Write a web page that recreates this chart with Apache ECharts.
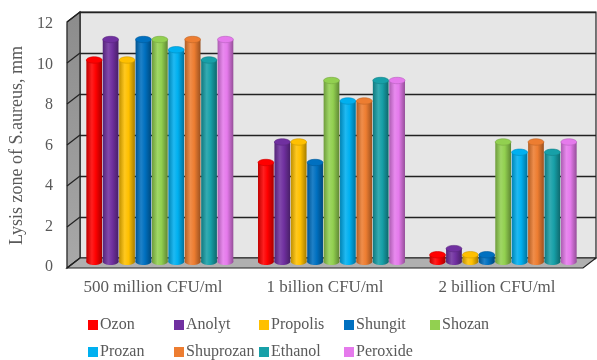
<!DOCTYPE html>
<html><head><meta charset="utf-8">
<script src="https://cdn.jsdelivr.net/npm/echarts@6/dist/echarts.min.js"></script>
<style>html,body{margin:0;padding:0;background:#fff}#c{width:597px;height:360px}</style>
</head><body><div id="c"></div>
<script>
const categories = ['500 million CFU/ml', '1 billion CFU/ml', '2 billion CFU/ml'];
const seriesNames = ['Ozon','Anolyt','Propolis','Shungit','Shozan','Prozan','Shuprozan','Ethanol','Peroxide'];
const Ozon      = [10, 5, 0.5];
const Anolyt    = [11, 6, 0.8];
const Propolis  = [10, 6, 0.5];
const Shungit   = [11, 5, 0.5];
const Shozan    = [11, 9, 6];
const Prozan    = [10.5, 8, 5.5];
const Shuprozan = [11, 8, 6];
const Ethanol   = [10, 9, 5.5];
const Peroxide  = [11, 9, 6];
const yTicks = [0, 2, 4, 6, 8, 10, 12];

const values = [Ozon, Anolyt, Propolis, Shungit, Shozan, Prozan, Shuprozan, Ethanol, Peroxide];
const colors = ['#ff0000','#7030a0','#ffc000','#0070c0','#92d050','#00b0f0','#ed7d31','#17a0a8','#e57aec'];
const FONT = 'Liberation Serif';
const TXT = '#595959';

function shade(hex, f) {
  let r = parseInt(hex.slice(1,3),16), g = parseInt(hex.slice(3,5),16), b = parseInt(hex.slice(5,7),16);
  if (f < 0) { r = r*(1+f); g = g*(1+f); b = b*(1+f); }
  else { r = r + (255-r)*f; g = g + (255-g)*f; b = b + (255-b)*f; }
  return 'rgb(' + Math.round(r) + ',' + Math.round(g) + ',' + Math.round(b) + ')';
}
function bodyGrad(c) {
  return new echarts.graphic.LinearGradient(0, 0, 1, 0, [
    {offset: 0, color: shade(c, -0.25)},
    {offset: 0.35, color: shade(c, 0.12)},
    {offset: 0.6, color: c},
    {offset: 1, color: shade(c, -0.35)}]);
}

const chart = echarts.init(document.getElementById('c'), null, {renderer: 'canvas'});

const nS = seriesNames.length;
const series = seriesNames.map((name, si) => ({
  type: 'custom',
  name: name,
  xAxisIndex: 2, yAxisIndex: 2,
  itemStyle: {color: colors[si]},
  data: values[si].map((v, ci) => [ci, v]),
  z: 5,
  renderItem: function (params, api) {
    const cat = api.value(0), val = api.value(1);
    const band = api.size([1, 0])[0];
    const step = band * 0.86 / nS;
    const w = step * 0.96;
    const base = api.coord([cat, 0]);
    const top = api.coord([cat, val]);
    const cx = base[0] + (si - (nS - 1) / 2) * step;
    const x = cx - w / 2;
    const c = colors[si];
    const ry = 3.2;
    return {
      type: 'group',
      children: [
        {type: 'ellipse', shape: {cx: cx, cy: base[1] - ry, rx: w / 2, ry: ry},
         style: {fill: bodyGrad(c)}},
        {type: 'rect', shape: {x: x, y: top[1], width: w, height: base[1] - ry - top[1]},
         style: {fill: bodyGrad(c)}},
        {type: 'ellipse', shape: {cx: cx, cy: top[1], rx: w / 2, ry: ry},
         style: {fill: c, stroke: shade(c, -0.2), lineWidth: 0.6}}
      ]
    };
  }
}));

// layout of the 3D frame (decoration)
const FL = 67, FR = 583, FT = 22, FB = 268; // front frame
const DX = 13, DY = -10;                    // depth offset

const legendPos = [[88,317],[174,317],[259,317],[344,317],[430,317],[88,344],[174,344],[259,344],[344,344]];
const legends = seriesNames.map((n, i) => ({
  data: [n], left: legendPos[i][0], top: legendPos[i][1], padding: 0,
  itemWidth: 10, itemHeight: 10, icon: 'rect', selectedMode: false,
  textStyle: {fontFamily: FONT, fontSize: 16, color: TXT, padding: [0, 0, 0, -3]}
}));

const wallLines = yTicks.map(t => {
  const yf = FB - (FB - FT) * t / yTicks[yTicks.length - 1];
  return {type: 'line', z: 2, shape: {x1: FL, y1: yf, x2: FL + DX, y2: yf + DY},
          style: {stroke: '#222', lineWidth: 1.2}};
});

chart.setOption({
  animation: false,
  backgroundColor: '#fff',
  legend: legends,
  grid: [
    {left: FL + DX, right: 597 - (FR + DX), top: FT + DY, bottom: 360 - (FB + DY), show: true,
     backgroundColor: '#e6e6e6', borderColor: '#222', borderWidth: 1.2, z: 0},
    {left: FL, right: 597 - FR, top: 24, bottom: 360 - 267, show: false},
    {left: 74, right: 8, top: 19, bottom: 95, show: false}
  ],
  xAxis: [
    {gridIndex: 0, type: 'value', min: 0, max: 1, show: false},
    {gridIndex: 1, type: 'category', data: categories, axisLine: {show: false}, axisTick: {show: false},
     axisLabel: {interval: 0, hideOverlap: false, fontFamily: FONT, fontSize: 17, color: TXT, margin: 12}},
    {gridIndex: 2, type: 'category', data: categories, show: false}
  ],
  yAxis: [
    {gridIndex: 0, type: 'value', min: 0, max: 12, interval: 2, axisLabel: {show: false},
     axisLine: {show: false}, axisTick: {show: false},
     splitLine: {show: true, lineStyle: {color: '#222', width: 1.3}}},
    {gridIndex: 1, type: 'value', min: yTicks[0], max: yTicks[yTicks.length - 1], interval: 2,
     name: 'Lysis zone of S.aureus, mm', nameLocation: 'middle', nameGap: 40,
     nameTextStyle: {fontFamily: FONT, fontSize: 18, color: TXT},
     axisLine: {show: true, lineStyle: {color: '#222', width: 1.2}},
     axisTick: {show: false},
     splitLine: {show: false},
     axisLabel: {fontFamily: FONT, fontSize: 16, color: TXT, margin: 14}},
    {gridIndex: 2, type: 'value', min: 0, max: 12, show: false}
  ],
  graphic: [
    {type: 'polygon', z: 1, shape: {points: [[FL, FT], [FL + DX, FT + DY], [FL + DX, FB + DY], [FL, FB]]},
     style: {fill: new echarts.graphic.LinearGradient(0, 0, 0, 1, [{offset: 0, color: '#8c8c8c'}, {offset: 1, color: '#a8a8a8'}]),
       stroke: '#222', lineWidth: 1.2}},
    {type: 'polygon', z: 1, shape: {points: [[FL, FB], [FL + DX, FB + DY], [FR + DX, FB + DY], [FR, FB]]},
     style: {fill: '#b0b0b0', stroke: '#222', lineWidth: 1.2}}
  ].concat(wallLines),
  series: series
});
</script></body></html>
